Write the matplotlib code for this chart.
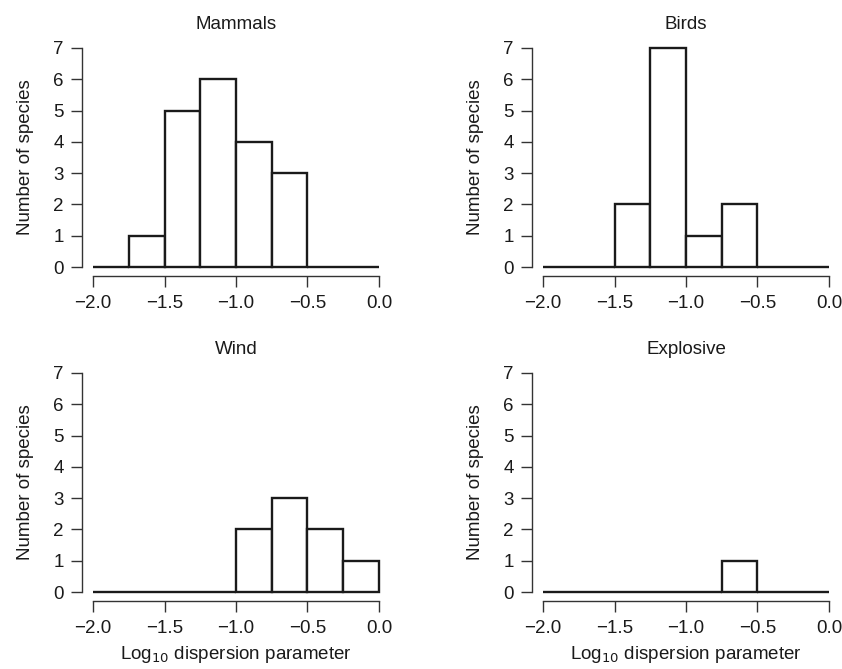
import numpy as np
import matplotlib
matplotlib.use("Agg")
import matplotlib.pyplot as plt

plt.rcParams['font.family'] = ['Liberation Sans', 'DejaVu Sans']

# histogram bins on log10 dispersion parameter
bin_edges = [-2.0, -1.75, -1.5, -1.25, -1.0, -0.75, -0.5, -0.25, 0.0]
mammals = [0, 1, 5, 6, 4, 3, 0, 0]
birds = [0, 0, 2, 7, 1, 2, 0, 0]
wind = [0, 0, 0, 0, 2, 3, 2, 1]
explosive = [0, 0, 0, 0, 0, 1, 0, 0]

titles = ["Mammals", "Birds", "Wind", "Explosive"]
counts = [mammals, birds, wind, explosive]
x_ticks = [-2.0, -1.5, -1.0, -0.5, 0.0]
y_ticks = [0, 1, 2, 3, 4, 5, 6, 7]

fig = plt.figure(figsize=(8.42, 6.69), dpi=100)
W, H = 842, 669
lefts = [81.6, 531.6]
bottoms = [275.8, 600.8]
aw, ah = 308.8, 236.6
txt = '#1a1a1a'

for i, (title, c) in enumerate(zip(titles, counts)):
    col, row = i % 2, i // 2
    ax = fig.add_axes([lefts[col] / W, 1 - bottoms[row] / H, aw / W, ah / H])
    edges = np.array(bin_edges)
    ax.bar(edges[:-1], c, width=np.diff(edges), align='edge',
           facecolor='white', edgecolor=txt, linewidth=1.7)
    ax.set_xlim(-2.08, 0.08)
    ax.set_ylim(-0.28, 7.28)
    for s in ['top', 'right']:
        ax.spines[s].set_visible(False)
    ax.spines['left'].set_bounds(0, 7)
    ax.spines['bottom'].set_bounds(-2, 0)
    for s in ['left', 'bottom']:
        ax.spines[s].set_linewidth(1.0)
        ax.spines[s].set_color('#333333')
    ax.set_xticks(x_ticks)
    ax.set_xticklabels([f"{v:.1f}".replace('-', '\u2212') for v in x_ticks])
    ax.set_yticks(y_ticks)
    ax.tick_params(axis='both', length=8, width=1.0, color='#333333',
                   labelsize=13.5, labelcolor=txt)
    ax.tick_params(axis='x', pad=6)
    ax.tick_params(axis='y', pad=5)
    ax.set_title(title, fontsize=13.5, pad=7, color=txt)
    ax.set_ylabel("Number of species", fontsize=13.5, labelpad=14, color=txt)
    if row == 1:
        ax.set_xlabel("Log$_{10}$ dispersion parameter", fontsize=13.5,
                      labelpad=5, color=txt)

fig.savefig("out.png", dpi=100)
